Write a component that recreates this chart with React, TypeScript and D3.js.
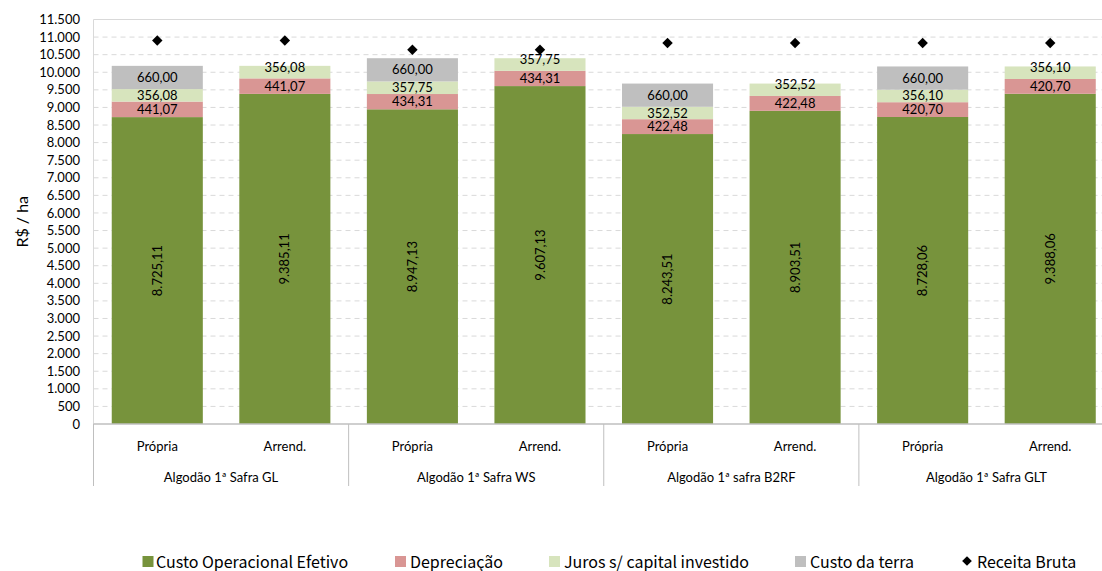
import React from "react";
import * as d3 from "d3";

const groups = ["Algodão 1ª Safra GL", "Algodão 1ª Safra WS", "Algodão 1ª safra B2RF", "Algodão 1ª Safra GLT"];
const subs = ["Própria", "Arrend."];
const custoOperacional = [8725.11, 9385.11, 8947.13, 9607.13, 8243.51, 8903.51, 8728.06, 9388.06];
const depreciacao = [441.07, 441.07, 434.31, 434.31, 422.48, 422.48, 420.70, 420.70];
const juros = [356.08, 356.08, 357.75, 357.75, 352.52, 352.52, 356.10, 356.10];
const custoTerra = [660, 0, 660, 0, 660, 0, 660, 0];
const receitaBruta = [10900, 10900, 10640, 10640, 10830, 10830, 10830, 10830];
const yTicks = d3.range(0, 11501, 500);

const seriesNames = ["Custo Operacional Efetivo", "Depreciação", "Juros s/ capital investido", "Custo da terra"];
const seriesColors = ["#77933C", "#D99694", "#D7E4BD", "#BFBFBF"];

const locale = d3.formatLocale({ decimal: ",", thousands: ".", grouping: [3], currency: ["R$", ""] });
const fmtTick = locale.format(",.0f");
const fmtVal = locale.format(",.2f");

const FONT = "Lato, 'Liberation Sans', sans-serif";
const LEGEND_FONT = "'Noto Sans CJK KR', 'Noto Sans', sans-serif";

export default function App() {
  const W = 1102, H = 571;
  const left = 93.5, right = 1114, top = 19.5, bottom = 424;
  const keys = groups.flatMap((g, gi) => subs.map((s, si) => `${gi}-${si}`));
  const x = d3.scaleBand<string>().domain(keys).range([left, right]).paddingInner(0.286).paddingOuter(0.143);
  const y = d3.scaleLinear().domain([0, 11500]).range([bottom, top]);
  const groupW = (right - left) / groups.length;

  const rows = keys.map((k, i) => ({
    key: k,
    values: [custoOperacional[i], depreciacao[i], juros[i], custoTerra[i]],
  }));
  const stack = d3.stack<any>().keys(["0", "1", "2", "3"]).value((d: any, key: string) => d.values[+key]);
  const stacked = stack(rows as any);

  const legendItems = [
    { sq: 142.5, tx: 156 },
    { sq: 395, tx: 410 },
    { sq: 549, tx: 564 },
    { sq: 795, tx: 810 },
  ];

  return (
    <svg width={W} height={H} style={{ position: "absolute", left: 0, top: 0, background: "#fff" }} fontFamily={FONT}>
      <line x1={left} x2={W} y1={top} y2={top} stroke="#D9D9D9" strokeWidth={1} />
      <line x1={left} x2={left} y1={top} y2={bottom} stroke="#D9D9D9" strokeWidth={1} />
      {yTicks.filter(t => t > 0 && t < 11500).map(t => (
        <line key={t} x1={left} x2={W} y1={y(t)} y2={y(t)} stroke="#D9D9D9" strokeDasharray="5,4" strokeWidth={1} />
      ))}
      {yTicks.map(t => (
        <text key={t} x={80} y={y(t)} dy="0.35em" textAnchor="end" fontSize={13} fill="#000">{fmtTick(t)}</text>
      ))}
      <text transform={`translate(22,${(top + bottom) / 2}) rotate(-90)`} textAnchor="middle" dy="0.35em" fontSize={16} fill="#000">R$ / ha</text>

      {stacked.map((s, si) => (
        <g key={si}>
          {s.map((d, i) => {
            const h = y(d[0]) - y(d[1]);
            if (h <= 0) return null;
            return (
              <rect key={i} x={x(keys[i])} width={x.bandwidth()} y={y(d[1])} height={h} fill={seriesColors[si]} />
            );
          })}
        </g>
      ))}
      {stacked.map((s, si) => (
        <g key={"l" + si}>
          {s.map((d, i) => {
            const v = d[1] - d[0];
            if (v <= 0) return null;
            const cx = x(keys[i])! + x.bandwidth() / 2;
            let cy = (y(d[0]) + y(d[1])) / 2;
            if (si === 0) {
              return (
                <text key={i} transform={`translate(${cx},${cy}) rotate(-90)`} textAnchor="middle" dy="0.35em" fontSize={13} fill="#000">{fmtVal(v)}</text>
              );
            }
            if (si === 2 && custoTerra[i] === 0) cy -= 5;
            return (
              <text key={i} x={cx} y={cy} dy="0.35em" textAnchor="middle" fontSize={13} fill="#000">{fmtVal(v)}</text>
            );
          })}
        </g>
      ))}
      {receitaBruta.map((v, i) => {
        const cx = x(keys[i])! + x.bandwidth() / 2;
        return <path key={i} d={d3.symbol().type(d3.symbolDiamond2).size(70)() as string} transform={`translate(${cx},${y(v)})`} fill="#000" />;
      })}

      <line x1={left} x2={W} y1={bottom} y2={bottom} stroke="#BFBFBF" strokeWidth={1.3} />
      {d3.range(0, groups.length + 1).map(g => (
        <line key={g} x1={left + g * groupW} x2={left + g * groupW} y1={bottom} y2={486} stroke="#BFBFBF" strokeWidth={1} />
      ))}
      {keys.map((k, i) => (
        <text key={k} x={x(k)! + x.bandwidth() / 2} y={446} dy="0.35em" textAnchor="middle" fontSize={13} fill="#000">{subs[i % 2]}</text>
      ))}
      {groups.map((g, gi) => (
        <text key={g} x={left + (gi + 0.5) * groupW} y={477} dy="0.35em" textAnchor="middle" fontSize={13} fill="#000">{g}</text>
      ))}

      <g fontFamily={LEGEND_FONT}>
        {legendItems.map((it, i) => (
          <g key={i}>
            <rect x={it.sq} y={556} width={11} height={11} fill={seriesColors[i]} />
            <text x={it.tx} y={562} dy="0.35em" fontSize={16} fill="#000">{seriesNames[i]}</text>
          </g>
        ))}
        <path d={d3.symbol().type(d3.symbolDiamond2).size(60)() as string} transform={`translate(967,561)`} fill="#000" />
        <text x={977} y={562} dy="0.35em" fontSize={16} fill="#000">Receita Bruta</text>
      </g>
    </svg>
  );
}
